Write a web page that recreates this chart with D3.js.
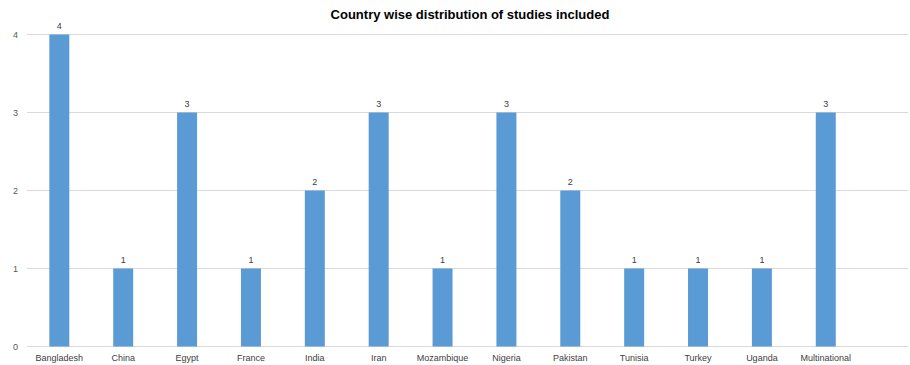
<!DOCTYPE html>
<html><head><meta charset="utf-8">
<script src="https://cdn.jsdelivr.net/npm/d3@7"></script>
<style>body{margin:0;background:#fff}svg{display:block}</style>
</head><body>
<script>
const categories = ["Bangladesh","China","Egypt","France","India","Iran","Mozambique","Nigeria","Pakistan","Tunisia","Turkey","Uganda","Multinational"];
const values = [4,1,3,1,2,3,1,3,2,1,1,1,3];
const yTicks = [0,1,2,3,4];
const title = "Country wise distribution of studies included";

const W = 910, H = 365;
const svg = d3.select("body").append("svg").attr("width", W).attr("height", H);
const x = d3.scaleBand().domain(categories).range([27.4, 857.7]).paddingInner(0.687).paddingOuter(0.3435);
const y = d3.scaleLinear().domain([0,4]).range([346.5, 34.5]);

svg.append("g").selectAll("line").data(yTicks).join("line")
  .attr("x1", 27).attr("x2", 908).attr("y1", d => y(d)).attr("y2", d => y(d))
  .attr("stroke", "#d9d9d9").attr("stroke-width", 1);

svg.append("g").selectAll("text").data(yTicks).join("text")
  .attr("x", 18).attr("y", d => y(d) + 3.5).attr("text-anchor", "end")
  .attr("font-family", "Liberation Sans, Arial, sans-serif").attr("font-size", 9).attr("fill", "#595959")
  .text(d => d);

svg.append("g").selectAll("rect").data(values).join("rect")
  .attr("x", (d,i) => x(categories[i])).attr("width", x.bandwidth())
  .attr("y", d => y(d)).attr("height", d => y(0) - y(d))
  .attr("fill", "#5b9bd5");

svg.append("g").selectAll("text").data(values).join("text")
  .attr("x", (d,i) => x(categories[i]) + x.bandwidth()/2).attr("y", d => y(d) - 6)
  .attr("text-anchor", "middle")
  .attr("font-family", "Liberation Sans, Arial, sans-serif").attr("font-size", 9).attr("fill", "#404040")
  .text(d => d);

svg.append("g").selectAll("text").data(categories).join("text")
  .attr("x", d => x(d) + x.bandwidth()/2).attr("y", 361)
  .attr("text-anchor", "middle")
  .attr("font-family", "Liberation Sans, Arial, sans-serif").attr("font-size", 9).attr("fill", "#404040")
  .text(d => d);

svg.append("text").attr("x", 470).attr("y", 19).attr("text-anchor", "middle")
  .attr("font-family", "Liberation Sans, Arial, sans-serif").attr("font-size", 13).attr("font-weight", "bold").attr("fill", "#000")
  .text(title);
</script>
</body></html>
